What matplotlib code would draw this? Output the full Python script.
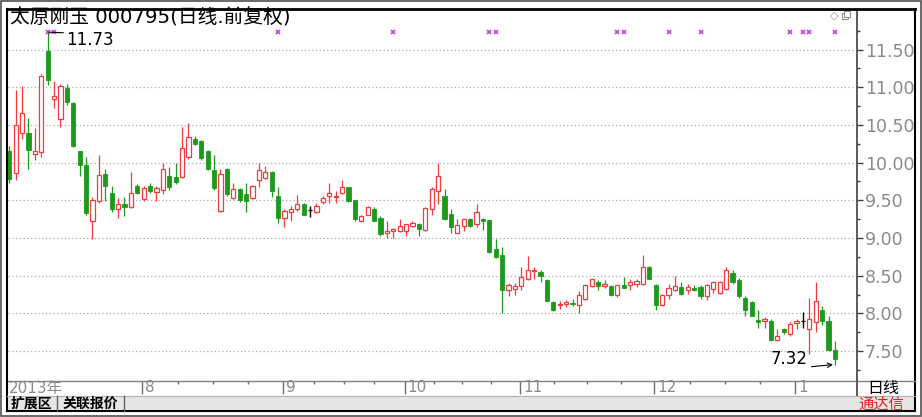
import matplotlib
matplotlib.use('Agg')
import matplotlib.pyplot as plt
from matplotlib.patches import Rectangle
import numpy as np

W, H = 922, 417
CJK = ['DejaVu Sans', 'Noto Sans CJK SC']

title = '太原刚玉 000795(日线.前复权)'

opens = [10.15, 9.86, 10.39, 10.39, 10.11, 10.14, 11.48, 10.85, 10.58, 10.99,
         10.79, 10.15, 9.97, 9.22, 9.49, 9.85, 9.60, 9.38, 9.45, 9.41,
         9.69, 9.52, 9.69, 9.61, 9.64, 9.82, 9.81, 9.81, 10.08, 10.31,
         10.28, 10.15, 9.90, 9.36, 9.91, 9.53, 9.65, 9.59, 9.53, 9.77,
         9.80, 9.87, 9.56, 9.27, 9.35, 9.38, 9.45, 9.37, 9.34, 9.48,
         9.56, 9.55, 9.60, 9.67, 9.50, 9.23, 9.31, 9.39, 9.27, 9.07,
         9.09, 9.09, 9.09, 9.16, 9.18, 9.10, 9.39, 9.62, 9.56, 9.32,
         9.07, 9.16, 9.25, 9.18, 9.25, 9.24, 8.86, 8.77, 8.31, 8.32,
         8.36, 8.45, 8.56, 8.55, 8.44, 8.15, 8.11, 8.13, 8.14, 8.11,
         8.19, 8.36, 8.42, 8.36, 8.36, 8.24, 8.37, 8.37, 8.39, 8.39,
         8.61, 8.37, 8.11, 8.24, 8.31, 8.35, 8.31, 8.34, 8.35, 8.23,
         8.32, 8.27, 8.32, 8.53, 8.44, 8.21, 8.15, 7.91, 7.90, 7.90,
         7.65, 7.79, 7.72, 7.87, 7.90, 7.79, 7.88, 8.04, 7.90, 7.51]
highs = [10.22, 10.96, 11.01, 10.59, 10.46, 11.17, 11.73, 11.08, 11.04, 11.04,
         10.80, 10.16, 10.08, 9.55, 10.10, 9.91, 9.69, 9.53, 9.55, 9.88,
         9.71, 9.69, 9.73, 9.69, 10.00, 9.94, 10.00, 10.47, 10.53, 10.35,
         10.30, 10.17, 10.10, 9.91, 9.93, 9.73, 9.66, 9.73, 9.70, 9.99,
         9.96, 9.89, 9.67, 9.38, 9.42, 9.57, 9.47, 9.42, 9.46, 9.56,
         9.73, 9.62, 9.77, 9.68, 9.51, 9.31, 9.43, 9.41, 9.29, 9.23,
         9.13, 9.25, 9.19, 9.23, 9.20, 9.41, 9.67, 10.00, 9.65, 9.39,
         9.25, 9.25, 9.26, 9.45, 9.26, 9.24, 8.98, 8.88, 8.40, 8.40,
         8.61, 8.76, 8.62, 8.57, 8.45, 8.17, 8.17, 8.18, 8.19, 8.30,
         8.38, 8.46, 8.44, 8.44, 8.37, 8.38, 8.48, 8.45, 8.45, 8.77,
         8.63, 8.39, 8.26, 8.39, 8.49, 8.42, 8.39, 8.37, 8.37, 8.39,
         8.43, 8.43, 8.61, 8.57, 8.47, 8.23, 8.17, 8.04, 7.95, 7.92,
         7.79, 7.81, 7.88, 7.92, 8.02, 8.21, 8.41, 8.10, 7.97, 7.63]
lows = [9.73, 9.77, 10.31, 9.92, 10.03, 10.07, 11.03, 10.73, 10.47, 10.76,
        10.21, 9.82, 9.31, 8.99, 9.47, 9.49, 9.35, 9.27, 9.29, 9.40,
        9.58, 9.49, 9.60, 9.49, 9.58, 9.64, 9.72, 9.80, 10.05, 10.23,
        10.03, 9.90, 9.64, 9.35, 9.56, 9.52, 9.48, 9.34, 9.52, 9.68,
        9.78, 9.54, 9.20, 9.15, 9.23, 9.36, 9.30, 9.28, 9.33, 9.45,
        9.47, 9.47, 9.58, 9.48, 9.23, 9.22, 9.30, 9.22, 9.02, 9.00,
        9.00, 9.08, 9.02, 9.14, 9.02, 9.09, 9.30, 9.45, 9.24, 9.07,
        9.06, 9.09, 9.15, 9.15, 9.10, 8.80, 8.74, 8.00, 8.23, 8.24,
        8.31, 8.44, 8.45, 8.42, 8.16, 8.03, 8.06, 8.09, 8.10, 8.00,
        8.18, 8.35, 8.31, 8.33, 8.23, 8.22, 8.33, 8.31, 8.35, 8.38,
        8.45, 8.04, 8.10, 8.19, 8.30, 8.24, 8.26, 8.30, 8.19, 8.18,
        8.27, 8.26, 8.31, 8.39, 8.21, 7.97, 7.96, 7.81, 7.81, 7.64,
        7.64, 7.72, 7.70, 7.79, 7.81, 7.46, 7.75, 7.84, 7.50, 7.32]
closes = [9.78, 10.50, 10.66, 10.17, 10.15, 11.15, 11.10, 10.88, 11.01, 10.81,
          10.22, 9.97, 9.33, 9.51, 9.84, 9.69, 9.38, 9.45, 9.41, 9.60,
          9.60, 9.66, 9.62, 9.66, 9.91, 9.67, 9.74, 10.19, 10.34, 10.25,
          10.06, 9.92, 9.66, 9.85, 9.58, 9.65, 9.50, 9.49, 9.69, 9.90,
          9.87, 9.62, 9.27, 9.36, 9.39, 9.45, 9.31, 9.37, 9.42, 9.53,
          9.60, 9.56, 9.67, 9.49, 9.25, 9.29, 9.41, 9.23, 9.05, 9.09,
          9.12, 9.16, 9.18, 9.20, 9.12, 9.40, 9.65, 9.82, 9.25, 9.14,
          9.17, 9.25, 9.16, 9.34, 9.23, 8.81, 8.75, 8.31, 8.37, 8.36,
          8.48, 8.57, 8.57, 8.49, 8.17, 8.04, 8.13, 8.15, 8.12, 8.24,
          8.37, 8.45, 8.36, 8.39, 8.24, 8.37, 8.34, 8.42, 8.43, 8.62,
          8.46, 8.11, 8.24, 8.33, 8.36, 8.26, 8.35, 8.31, 8.23, 8.37,
          8.41, 8.41, 8.57, 8.41, 8.23, 8.04, 7.97, 7.88, 7.93, 7.65,
          7.70, 7.75, 7.86, 7.90, 7.90, 7.92, 8.17, 7.90, 7.51, 7.39]

# first trading day index of each month shown on the date strip
month_labels = ['8', '9', '10', '11', '12', '1']
month_start = [21, 43, 62, 80, 101, 123]
year_label = '2013年'

# days carrying an info marker (small purple crosses at the top)
info_days = [6, 7, 42, 60, 75, 76, 95, 96, 103, 108, 122, 124, 125, 129]

price_ticks = [7.5, 8.0, 8.5, 9.0, 9.5, 10.0, 10.5, 11.0, 11.5]

RED = '#f03c3c'
GREEN = '#1c9a1c'
GREY = '#8a8a8a'


def box(x0, y0, x1, y1):
    return [x0 / W, 1 - y1 / H, (x1 - x0) / W, (y1 - y0) / H]


fig = plt.figure(figsize=(W / 100, H / 100), dpi=100)
fig.patch.set_facecolor('white')

o = np.array(opens)
h = np.array(highs)
l = np.array(lows)
c = np.array(closes)
x = np.arange(len(o))
up = c > o
dn = c < o
flat = c == o
bw = 0.64

# background (bottom bar)
bg = fig.add_axes([0, 0, 1, 1], zorder=0)
bg.set_xlim(0, W)
bg.set_ylim(H, 0)
bg.axis('off')
bg.add_patch(Rectangle((7, 396), 908, 15, facecolor='#e6e6e6', edgecolor='none'))

# main candle chart
ax = fig.add_axes(box(8, 10, 857, 381), zorder=1)
ax.set_xlim(-0.2, 132.45)
ax.set_ylim(7.103, 12.024)

ax.vlines(x[up], c[up], h[up], color=RED, lw=0.9)
ax.vlines(x[up], l[up], o[up], color=RED, lw=0.9)
ax.bar(x[up], (c - o)[up], bottom=o[up], width=bw, facecolor='white',
       edgecolor=RED, lw=0.9)
ax.vlines(x[dn], l[dn], h[dn], color=GREEN, lw=0.9)
ax.bar(x[dn], (o - c)[dn], bottom=c[dn], width=bw, facecolor=GREEN,
       edgecolor=GREEN, lw=0.6)
ax.vlines(x[flat], l[flat], h[flat], color='black', lw=1.0)
ax.hlines(o[flat], x[flat] - bw / 2, x[flat] + bw / 2, color='black', lw=1.0)

ax.plot(info_days, [11.73] * len(info_days), linestyle='none', marker='x',
        color='#c040e8', ms=3.5, mew=1.2)

# high / low labels
imax = int(np.argmax(h))
imin = int(np.argmin(l))
ax.annotate(f'{h[imax]:.2f}', xy=(imax + 0.2, h[imax]), xytext=(8.9, 11.625),
            fontsize=12, va='center', ha='left', color='black',
            arrowprops=dict(arrowstyle='-', color='black', lw=0.8,
                            relpos=(0, 0.9), shrinkA=0, shrinkB=0))
ax.annotate(f'{l[imin]:.2f}', xy=(imin - 0.3, l[imin]), xytext=(118.9, 7.395),
            fontsize=12, va='center', ha='left', color='black',
            arrowprops=dict(arrowstyle='->', color='black', lw=0.8,
                            relpos=(1, 0.05), shrinkA=1, shrinkB=0,
                            mutation_scale=8))

ax.set_yticks(price_ticks)
ax.set_yticklabels([f'{t:.2f}' for t in price_ticks], family='DejaVu Sans',
                   fontsize=12.5, color=GREY)
ax.set_yticks(np.arange(7.25, 11.9, 0.5), minor=True)
ax.yaxis.tick_right()
ax.tick_params(axis='y', which='major', length=4.5, width=1, color='#404040', pad=1)
ax.tick_params(axis='y', which='minor', length=2, width=1, color='#404040')
ax.set_xticks([])
ax.grid(axis='y', color='#aaaaaa', linestyle=(0, (1, 2)), lw=0.9)
ax.set_axisbelow(True)
for s in ['left', 'top']:
    ax.spines[s].set_visible(False)
ax.spines['right'].set_color('#404040')
ax.spines['right'].set_linewidth(1.2)
ax.spines['bottom'].set_color('#808080')
ax.spines['bottom'].set_linewidth(1.0)

# date strip
dax = fig.add_axes(box(8, 381, 857, 395), zorder=1, sharex=ax)
dax.set_ylim(0, 1)
dax.axis('off')
mpos = [m - 0.2 for m in month_start]
dax.vlines(mpos, 0.1, 1, color='#707070', lw=1)
for p, lab in zip(mpos, month_labels):
    dax.text(p + 0.45, 0.5, lab, fontsize=11, color=GREY, va='center',
             ha='left', family='DejaVu Sans')
edges = mpos + [mpos[-1] + (mpos[-1] - mpos[-2])]
minor = []
for a, b in zip(edges[:-2], edges[1:-1]):
    minor += [a + (b - a) * k / 4 for k in (1, 2, 3)]
dax.vlines(minor, 0.8, 1, color='#707070', lw=1)
dax.text(-0.1, 0.5, year_label, fontsize=11, color=GREY, va='center',
         ha='left', family=CJK)

# overlay: frame, title and status bar
ov = fig.add_axes([0, 0, 1, 1], zorder=5)
ov.set_xlim(0, W)
ov.set_ylim(H, 0)
ov.axis('off')
ov.patch.set_alpha(0)
ov.add_patch(Rectangle((1, 1), W - 2.5, H - 2.5, fill=False, edgecolor='#505050', lw=1.2))
ov.plot([7, 915], [9, 9], color='black', lw=2)
ov.plot([7, 7], [9, 411], color='black', lw=1.5)
ov.plot([915, 915], [9, 411], color='black', lw=1.5)
ov.plot([7, 915], [411, 411], color='black', lw=1.5)
ov.plot([857, 857], [381, 396], color='#404040', lw=1.2)
ov.plot([857, 915], [381, 381], color='#808080', lw=1)
ov.plot([7, 915], [396, 396], color='#b0b0b0', lw=0.8)
ov.plot([57, 57], [396, 411], color='#606060', lw=1)
ov.plot([124, 124], [396, 411], color='#606060', lw=1)

ov.text(10, 18, title, fontsize=14.2, family=CJK, va='center', ha='left',
        color='black')
ov.text(834, 16, '◇', fontsize=8, color='#909090', va='center', ha='center',
        family='DejaVu Sans')
ov.add_patch(Rectangle((842, 13), 6, 6, fill=False, edgecolor='#909090', lw=0.8))
ov.add_patch(Rectangle((844, 11), 6, 6, facecolor='white', edgecolor='#909090', lw=0.8))

ov.text(883, 388, '日线', fontsize=11.5, family='Noto Sans CJK SC', va='center',
        ha='center', color='black')
ov.text(881, 404, '通达信', fontsize=11, family='Noto Sans CJK SC', va='center',
        ha='center', color='#e82020')
ov.text(31, 403.5, '扩展区', fontsize=10, family='Noto Sans CJK SC',
        weight='bold', va='center', ha='center', color='black')
ov.text(90, 403.5, '关联报价', fontsize=10, family='Noto Sans CJK SC',
        weight='bold', va='center', ha='center', color='black')

fig.savefig('out.png', dpi=100)
